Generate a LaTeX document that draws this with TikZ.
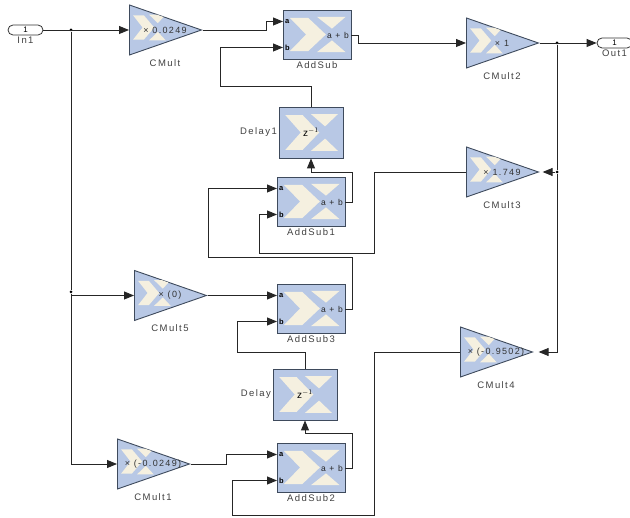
\documentclass[tikz,border=0pt]{standalone}
\usepackage{fontspec}
\setmainfont{Liberation Sans}
\newfontfamily\lblfont[LetterSpace=15]{Liberation Sans}
\usetikzlibrary{arrows.meta,shapes.geometric,shapes.misc}
\definecolor{blockblue}{RGB}{184,200,229}
\definecolor{logocream}{RGB}{245,240,224}
\definecolor{edgeslate}{RGB}{62,74,92}
\newcommand\xlogo[4]{\begin{scope}[shift={(#1,#2)},x=#3pt,y=-#4pt]
\fill[logocream] (.10,.16)--(.37,.16)--(.63,.5)--(.37,.84)--(.10,.84)--(.34,.5)--cycle;
\fill[logocream] (.50,.14)--(.92,.14)--(.72,.38)--cycle;
\fill[logocream] (.50,.86)--(.92,.86)--(.72,.62)--cycle;
\end{scope}}
\tikzset{
lbl/.style={font=\lblfont\fontsize{9.5}{11}\selectfont,text=black!75,inner sep=1.5pt},
vallbl/.style={font=\lblfont\fontsize{9}{10}\selectfont,text=black!80,inner sep=0pt},
portlbl/.style={font=\bfseries\fontsize{7.5}{9}\selectfont,inner sep=2pt},
sumlbl/.style={font=\lblfont\fontsize{8.5}{10}\selectfont,text=black!85,inner sep=2pt},
addblock/.style={rectangle,draw=edgeslate,line width=.9pt,fill=blockblue,minimum width=68pt,minimum height=49pt,inner sep=0pt},
delayblock/.style={rectangle,draw=edgeslate,line width=.9pt,fill=blockblue,minimum width=64pt,minimum height=51pt,inner sep=0pt},
cmult/.style={isosceles triangle,isosceles triangle stretches,minimum height=72pt,minimum width=50pt,inner sep=0pt,draw=edgeslate,line width=.9pt,fill=blockblue,anchor=lower side},
portbox/.style={rounded rectangle,draw=black!80,line width=.8pt,minimum width=35pt,minimum height=10pt,inner sep=0pt,font=\lblfont\fontsize{8}{9}\selectfont},
sig/.style={draw=black!85,line width=.9pt},
arr/.style={sig,-{Triangle[length=10pt,width=8pt]}},
dot/.style={circle,fill=black,inner sep=0pt,minimum size=3pt}
}
\begin{document}
\begin{tikzpicture}[x=1pt,y=-1pt]
\useasboundingbox (0,0) rectangle (630,518);
\foreach\nm/\x/\y/\val in {CMult/165/30/{× 0.0249},CMult5/170/295.5/{× (0)},CMult1/153/464/{× (-0.0249)},CMult2/502/43/{× 1},CMult3/502/172/{× 1.749},CMult4/496/352/{× (-0.9502)}} {
\node[cmult] (\nm) at (\x-36,\y) {};
\begin{scope}
\clip (\x-36,\y-25)--(\x+36,\y)--(\x-36,\y+25)--cycle;
\xlogo{\x-36}{\y-20.5}{40}{36}
\end{scope}
\node[vallbl] (\nm v) at (\x,\y) {\val};
\node[lbl] (\nm l) at (\x,\y+33) {\nm};
}
\foreach\nm/\x/\y in {AddSub/317/34.5,AddSub1/311/201.5,AddSub3/311/308.5,AddSub2/311/467.5} {
\node[addblock,label={[lbl]below:\nm}] (\nm) at (\x,\y) {};
\xlogo{\x-34}{\y-24.5}{68}{49}
\node[portlbl,right] (\nm a) at (\x-34,\y-13) {a};
\node[portlbl,right] (\nm b) at (\x-34,\y+13) {b};
\node[sumlbl,left] (\nm s) at (\x+34,\y+1) {a + b};
}
\foreach\nm/\x/\y in {Delay1/311/132.5,Delay/305/394.5} {
\node[delayblock,label={[lbl]left:\nm}] (\nm) at (\x,\y) {};
\xlogo{\x-32}{\y-25.5}{64}{51}
\node[font=\fontsize{10}{11}\selectfont,inner sep=0pt] (\nm z) at (\x,\y) {z$^{-1}$};
}
\node[portbox,label={[lbl]below:In1}] (In1) at (25.5,30) {1};
\node[portbox,label={[lbl]below:Out1}] (Out1) at (614.5,43) {1};
\node[dot] (jin) at (71,30) {};
\node[dot] (jmid) at (71,292) {};
\node[dot] (jout) at (557,43) {};
\node[dot] (jfb) at (557,172) {};
\draw[arr] (In1.east)--(CMult.lower side);
\draw[sig] (jin)--(jmid);
\draw[arr] (jmid)|-(CMult5.lower side);
\draw[arr] (jmid)|-(CMult1.lower side);
\draw[arr] (CMult.apex)-|(266,21.5)--(AddSuba.west);
\draw[arr] (AddSubs.east)-|(358,43)--(CMult2.lower side);
\draw[arr] (CMult2.apex)--(Out1.west);
\draw[sig] (jout)--(jfb);
\draw[arr,shorten >=3pt] (jfb)--(CMult3.apex);
\draw[arr,shorten >=5pt] (jfb)|-(CMult4.apex);
\draw[arr] (Delay1.north)|-(220,86)|-(AddSubb.west);
\draw[arr] (AddSub1s.east)-|(352,172)-|(Delay1.south);
\draw[arr] (AddSub3s.east)-|(352,257)-|(208,188.5)--(AddSub1a.west);
\draw[arr] (CMult3.lower side)-|(374,253)-|(259,214.5)--(AddSub1b.west);
\draw[arr] (CMult5.apex)--(AddSub3a.west);
\draw[arr] (Delay.north)|-(237,352)|-(AddSub3b.west);
\draw[arr] (AddSub2s.east)-|(352,433)-|(Delay.south);
\draw[arr] (CMult1.apex)-|(226,454.5)--(AddSub2a.west);
\draw[arr] (CMult4.lower side)-|(374,515)-|(232,480.5)--(AddSub2b.west);
\end{tikzpicture}
\end{document}
